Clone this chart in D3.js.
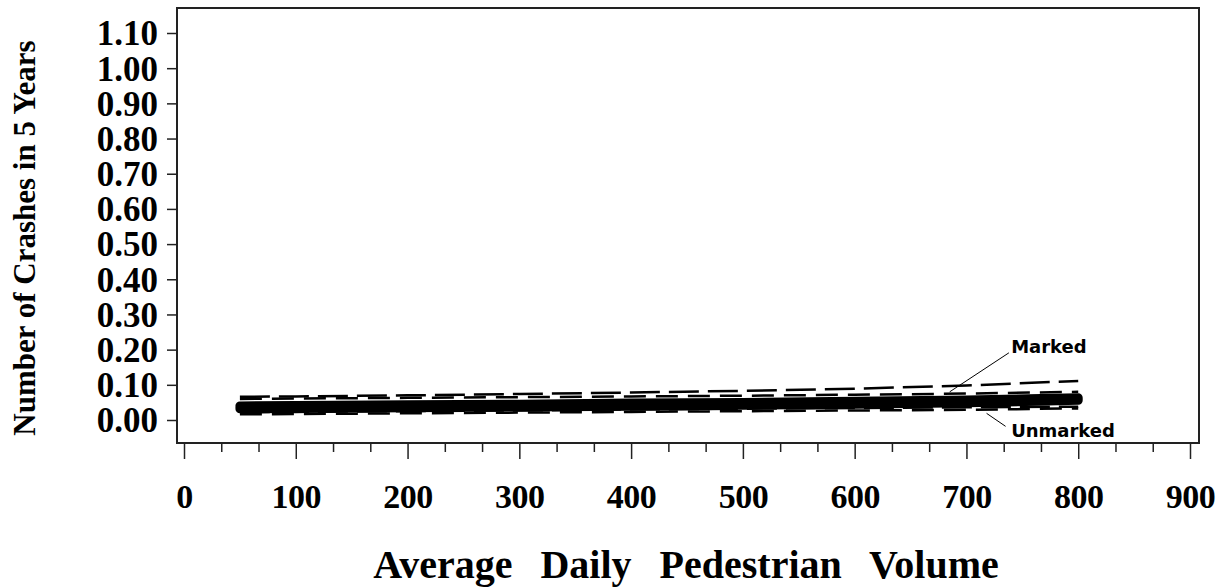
<!DOCTYPE html>
<html>
<head>
<meta charset="utf-8">
<script src="https://cdn.jsdelivr.net/npm/d3@7"></script>
<style>
  html, body { margin: 0; padding: 0; background: #fff; }
  svg { display: block; }
</style>
</head>
<body>
<svg id="chart" width="1227" height="588"></svg>
<script>
// ---- data ----
const volumes        = [50, 100, 200, 300, 400, 500, 600, 700, 800];
const markedPred     = [0.040, 0.041, 0.043, 0.045, 0.048, 0.050, 0.053, 0.057, 0.063];
const unmarkedPred   = [0.032, 0.033, 0.035, 0.037, 0.039, 0.042, 0.045, 0.049, 0.056];
const markedUpper    = [0.066, 0.067, 0.070, 0.074, 0.078, 0.083, 0.089, 0.098, 0.111];
const markedLower    = [0.022, 0.023, 0.025, 0.027, 0.030, 0.032, 0.034, 0.036, 0.038];
const unmarkedUpper  = [0.060, 0.061, 0.063, 0.065, 0.067, 0.069, 0.072, 0.075, 0.080];
const unmarkedLower  = [0.016, 0.017, 0.019, 0.021, 0.023, 0.025, 0.027, 0.029, 0.033];
const xTicks = [0, 100, 200, 300, 400, 500, 600, 700, 800, 900];
const yTicks = [0.00, 0.10, 0.20, 0.30, 0.40, 0.50, 0.60, 0.70, 0.80, 0.90, 1.00, 1.10];
const xTitle = "Average Daily Pedestrian Volume";
const yTitle = "Number of Crashes in 5 Years";
// annotation labels: [text, label x, label y, leader from x,y to x,y] in data units
const labels = [
  { text: "Marked",   lx: 740, ly: 0.190, x1: 738, y1: 0.191, x2: 685, y2: 0.080 },
  { text: "Unmarked", lx: 740, ly: -0.048, x1: 735, y1: -0.018, x2: 718, y2: 0.019 }
];

// ---- layout ----
const svg = d3.select("#chart");
const frame = { left: 177, right: 1199, top: 8, bottom: 443 };
const x = d3.scaleLinear().domain([0, 900]).range([184, 1190]);
const y = d3.scaleLinear().domain([0, 1.1]).range([420, 33]);

const serif = "'Liberation Serif', 'Times New Roman', serif";

// frame
svg.append("rect")
  .attr("x", frame.left).attr("y", frame.top)
  .attr("width", frame.right - frame.left).attr("height", frame.bottom - frame.top)
  .attr("fill", "none").attr("stroke", "#222").attr("stroke-width", 2);

// y axis
const yAxis = d3.axisLeft(y).tickValues(yTicks).tickFormat(d3.format(".2f"))
  .tickSize(10).tickPadding(9);
const gy = svg.append("g").attr("transform", `translate(${frame.left},0)`).call(yAxis);
gy.select(".domain").remove();
gy.selectAll(".tick line").attr("stroke", "#222").attr("stroke-width", 1.5);
gy.selectAll(".tick text")
  .attr("font-family", serif).attr("font-weight", "bold").attr("font-size", 35)
  .attr("fill", "#000").attr("dy", "0.34em");

// x axis minor ticks
const minor = d3.range(0, 901, 100 / 3).filter(v => Math.abs(v / 100 - Math.round(v / 100)) > 0.01);
const gxm = svg.append("g").attr("transform", `translate(0,${frame.bottom})`)
  .call(d3.axisBottom(x).tickValues(minor).tickSize(9).tickFormat(""));
gxm.select(".domain").remove();
gxm.selectAll(".tick line").attr("stroke", "#222").attr("stroke-width", 1.5);

// x axis major ticks
const xAxis = d3.axisBottom(x).tickValues(xTicks).tickFormat(d3.format("d"))
  .tickSize(16).tickPadding(25);
const gx = svg.append("g").attr("transform", `translate(0,${frame.bottom})`).call(xAxis);
gx.select(".domain").remove();
gx.selectAll(".tick line").attr("stroke", "#222").attr("stroke-width", 1.5);
gx.selectAll(".tick text")
  .attr("font-family", serif).attr("font-weight", "bold").attr("font-size", 34)
  .attr("fill", "#000").attr("letter-spacing", -0.5);

// titles
svg.append("text")
  .attr("x", 686).attr("y", 578)
  .attr("text-anchor", "middle")
  .attr("font-family", serif).attr("font-weight", "bold").attr("font-size", 40)
  .attr("word-spacing", 18)
  .text(xTitle);

svg.append("text")
  .attr("transform", "translate(35,238) rotate(-90)")
  .attr("text-anchor", "middle")
  .attr("font-family", serif).attr("font-weight", "bold").attr("font-size", 31)
  .text(yTitle);

// ---- lines ----
const line = d3.line().x(d => x(d[0])).y(d => y(d[1]));
const zip = arr => volumes.map((v, i) => [v, arr[i]]);

const dashed = [
  { data: markedUpper,   dash: "30,9" },
  { data: unmarkedUpper, dash: "22,10" },
  { data: markedLower,   dash: "30,9" },
  { data: unmarkedLower, dash: "22,10" }
];
dashed.forEach(s => {
  svg.append("path").datum(zip(s.data))
    .attr("d", line).attr("fill", "none")
    .attr("stroke", "#000").attr("stroke-width", 2.5)
    .attr("stroke-dasharray", s.dash);
});

[unmarkedPred, markedPred].forEach(arr => {
  svg.append("path").datum(zip(arr))
    .attr("d", line).attr("fill", "none")
    .attr("stroke", "#000").attr("stroke-width", 9)
    .attr("stroke-linecap", "round").attr("stroke-linejoin", "round");
});

// ---- annotations ----
labels.forEach(l => {
  svg.append("line")
    .attr("x1", x(l.x1)).attr("y1", y(l.y1))
    .attr("x2", x(l.x2)).attr("y2", y(l.y2))
    .attr("stroke", "#000").attr("stroke-width", 1);
  svg.append("text")
    .attr("x", x(l.lx)).attr("y", y(l.ly))
    .attr("font-family", "'DejaVu Sans', Verdana, sans-serif")
    .attr("font-weight", "bold").attr("font-size", 18)
    .attr("fill", "#000")
    .text(l.text);
});
</script>
</body>
</html>
